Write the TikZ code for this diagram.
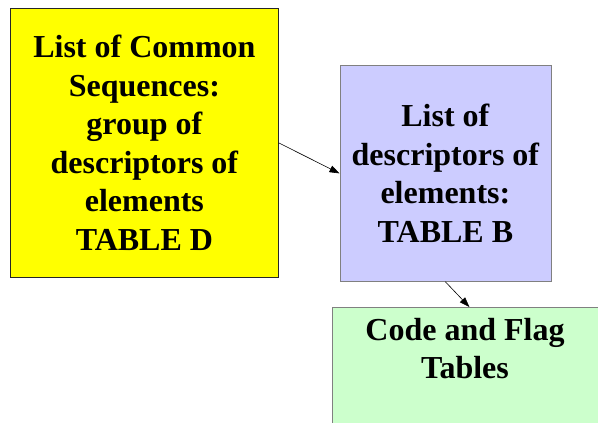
\documentclass[tikz,border=0pt]{standalone}
\usepackage{fontspec}
\setmainfont{Liberation Serif}
\usetikzlibrary{arrows.meta}
\begin{document}
\begin{tikzpicture}[x=1pt,y=-1pt,
  box/.style={draw, line width=0.8pt, inner sep=0pt, anchor=north west,
    font=\bfseries\fontsize{32}{38.5}\selectfont, align=center},
  link/.style={draw=black, line width=0.6pt, -{Triangle[length=10pt,width=7pt]}}]
\useasboundingbox (0,0) rectangle (598,423);
\clip (0,0) rectangle (598,423);
% Table D box
\node[box, fill={rgb,255:red,255;green,255;blue,0}, draw=black!85,
  minimum width=268pt, minimum height=269pt] (d) at (10,8)
  {List of Common\\Sequences:\\group of\\descriptors of\\elements\\TABLE D};
% Table B box
\node[box, fill={rgb,255:red,204;green,204;blue,255}, draw=black!50,
  minimum width=211pt, minimum height=216pt] (b) at (339.5,65)
  {List of\\descriptors of\\elements:\\TABLE B};
% Code and flag box, running off the page
\node[box, fill={rgb,255:red,204;green,255;blue,204}, draw=black!50,
  minimum width=274pt, minimum height=140pt] (c) at (332,307) {};
\node[font=\bfseries\fontsize{32}{38.5}\selectfont, align=center, anchor=north, inner sep=0pt]
  (ct) at (465,318) {Code and Flag\\Tables};
% Connectors
\draw[link] (d.east) -- (b.west);
\draw[link] (b.south) -- (c.north);
\end{tikzpicture}
\end{document}
